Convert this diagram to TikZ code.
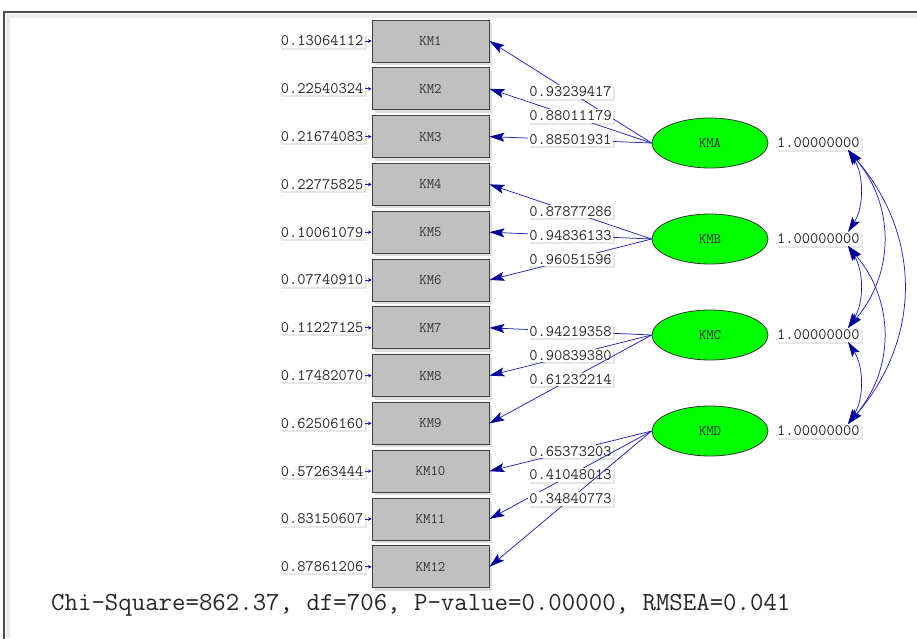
\documentclass[tikz,border=0pt]{standalone}
\usepackage{fontspec}
\usetikzlibrary{shapes.geometric,arrows.meta,shadows}
\definecolor{lnblue}{RGB}{35,35,175}
\definecolor{hdblue}{RGB}{0,0,150}
\definecolor{boxgray}{RGB}{192,192,192}
\definecolor{elgreen}{RGB}{0,255,0}
\begin{document}
\begin{tikzpicture}[x=1pt,y=-1pt,
  obs/.style={draw=black!75, fill=boxgray, line width=0.9pt, minimum width=117pt, minimum height=42pt, inner sep=0pt,
    font=\ttfamily\fontsize{14.5}{14.5}\selectfont, text=black!80,
    drop shadow={opacity=0.25, shadow xshift=3pt, shadow yshift=-3pt}},
  lat/.style={ellipse, draw=black!80, fill=elgreen, line width=0.8pt, minimum width=116pt, minimum height=50pt, inner sep=0pt,
    font=\ttfamily\fontsize{14.5}{14.5}\selectfont, text=black!80},
  val/.style={fill=white, inner sep=1.5pt, font=\ttfamily\fontsize{16}{16}\selectfont, text=black!85,
    drop shadow={opacity=0.2, shadow xshift=2pt, shadow yshift=-2pt}},
  load/.style={draw=lnblue, line width=0.75pt, -{Stealth[length=15pt,width=9pt,inset=3pt,color=hdblue]}},
  err/.style={draw=lnblue, line width=0.9pt, -{Stealth[length=3.5pt,width=3.5pt,color=hdblue]}},
  cov/.style={draw=lnblue, line width=0.75pt, {Stealth[length=15pt,width=9pt,inset=3pt,color=hdblue]}-{Stealth[length=15pt,width=9pt,inset=3pt,color=hdblue]}},
]
\useasboundingbox (0,0) rectangle (917,639);
% frame
\draw[gray!15, line width=4pt] (8,639) -- (8,16) -- (917,16);
\draw[black!70, line width=1.2pt] (4,639) -- (4,12) -- (917,12);

% observed variables and error labels
\foreach \i/\e in {1/0.13064112,2/0.22540324,3/0.21674083,4/0.22775825,5/0.10061079,6/0.07740910,
                   7/0.11227125,8/0.17482070,9/0.62506160,10/0.57263444,11/0.83150607,12/0.87861206}{
  \pgfmathsetmacro{\yy}{41+47.8*(\i-1)}
  \node[obs] (KM\i) at (430.5,\yy) {KM\i};
  \node[val, anchor=east] (e\i) at (365,\yy) {\e};
  \draw[err] (e\i.east) -- (KM\i.west);
}

% latent variables
\node[lat] (KMA) at (710,143) {KMA};
\node[lat] (KMB) at (710,239) {KMB};
\node[lat] (KMC) at (710,335) {KMC};
\node[lat] (KMD) at (710,431) {KMD};

% loadings
\draw[load] (KMA.west) -- node[val,pos=0.5] (lA1) {0.93239417} (KM1.east);
\draw[load] (KMA.west) -- node[val,pos=0.5] (lA2) {0.88011179} (KM2.east);
\draw[load] (KMA.west) -- node[val,pos=0.5] (lA3) {0.88501931} (KM3.east);
\draw[load] (KMB.west) -- node[val,pos=0.5] (lB4) {0.87877286} (KM4.east);
\draw[load] (KMB.west) -- node[val,pos=0.5] (lB5) {0.94836133} (KM5.east);
\draw[load] (KMB.west) -- node[val,pos=0.5] (lB6) {0.96051596} (KM6.east);
\draw[load] (KMC.west) -- node[val,pos=0.5] (lC7) {0.94219358} (KM7.east);
\draw[load] (KMC.west) -- node[val,pos=0.5] (lC8) {0.90839380} (KM8.east);
\draw[load] (KMC.west) -- node[val,pos=0.5] (lC9) {0.61232214} (KM9.east);
\draw[load] (KMD.west) -- node[val,pos=0.5] (lD10) {0.65373203} (KM10.east);
\draw[load] (KMD.west) -- node[val,pos=0.5] (lD11) {0.41048013} (KM11.east);
\draw[load] (KMD.west) -- node[val,pos=0.5] (lD12) {0.34840773} (KM12.east);

% variance labels
\node[val, anchor=west] (vA) at (775.5,143) {1.00000000};
\node[val, anchor=west] (vB) at (775.5,239) {1.00000000};
\node[val, anchor=west] (vC) at (775.5,335) {1.00000000};
\node[val, anchor=west] (vD) at (775.5,431) {1.00000000};

% covariance endpoints
\coordinate (Ab) at (848,150);
\coordinate (Bt) at (848,232);
\coordinate (Bb) at (848,246);
\coordinate (Ct) at (848,328);
\coordinate (Cb) at (848,342);
\coordinate (Dt) at (848,424);

\draw[cov] (Ab) .. controls +(16,25) and +(16,-25) .. (Bt);
\draw[cov] (Bb) .. controls +(16,25) and +(16,-25) .. (Ct);
\draw[cov] (Cb) .. controls +(16,25) and +(16,-25) .. (Dt);
\draw[cov] (Ab) .. controls +(47,55) and +(47,-55) .. (Ct);
\draw[cov] (Bb) .. controls +(47,55) and +(47,-55) .. (Dt);
\draw[cov] (Ab) .. controls +(74,85) and +(74,-85) .. (Dt);

% fit statistics
\node[anchor=west, inner sep=0pt, font=\ttfamily\fontsize{26.1}{26.1}\selectfont, text=black!85] (fit) at (51,605)
  {Chi-Square=862.37, df=706, P-value=0.00000, RMSEA=0.041};
\end{tikzpicture}
\end{document}
